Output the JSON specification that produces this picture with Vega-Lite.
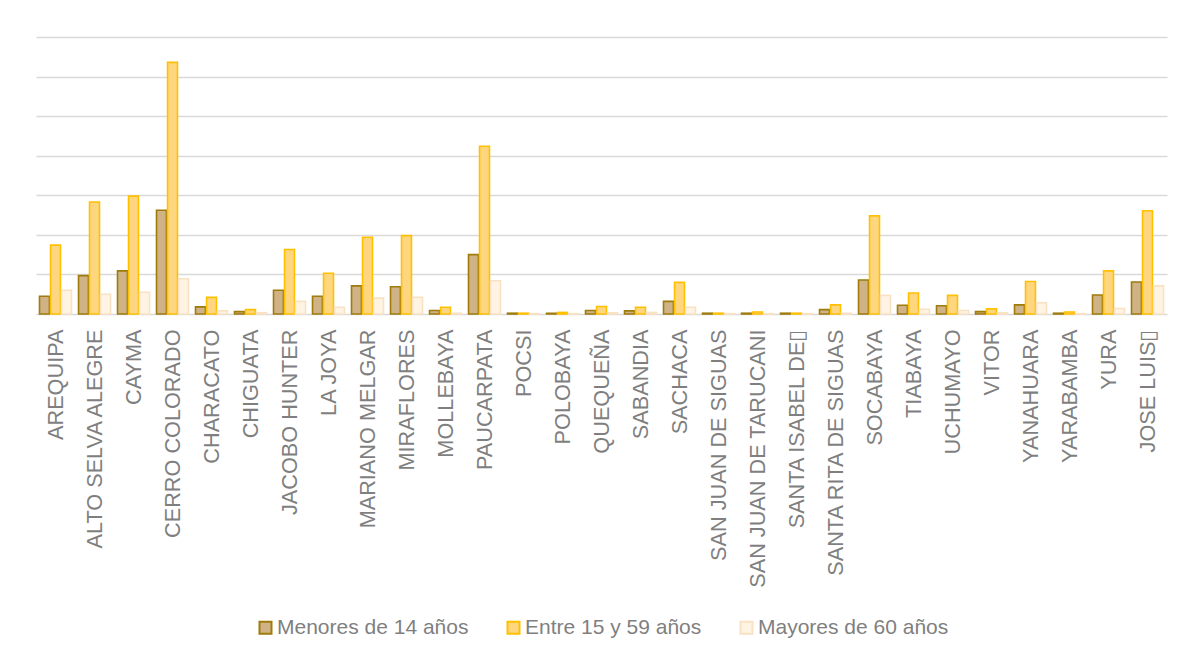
{
  "$schema": "https://vega.github.io/schema/vega-lite/v6.json",
  "width": 1131,
  "height": 277,
  "autosize": {"type": "none"},
  "padding": {"left": 36, "top": 37, "right": 22, "bottom": 347},
  "background": "white",
  "config": {
    "view": {"stroke": null},
    "font": "Liberation Sans"
  },
  "data": {
    "values": [
      {"distrito": "AREQUIPA", "Menores de 14 años": 4500, "Entre 15 y 59 años": 17400, "Mayores de 60 años": 6000},
      {"distrito": "ALTO SELVA ALEGRE", "Menores de 14 años": 9700, "Entre 15 y 59 años": 28300, "Mayores de 60 años": 5000},
      {"distrito": "CAYMA", "Menores de 14 años": 10900, "Entre 15 y 59 años": 29800, "Mayores de 60 años": 5500},
      {"distrito": "CERRO COLORADO", "Menores de 14 años": 26200, "Entre 15 y 59 años": 63600, "Mayores de 60 años": 8900},
      {"distrito": "CHARACATO", "Menores de 14 años": 1800, "Entre 15 y 59 años": 4200, "Mayores de 60 años": 800},
      {"distrito": "CHIGUATA", "Menores de 14 años": 600, "Entre 15 y 59 años": 1100, "Mayores de 60 años": 300},
      {"distrito": "JACOBO HUNTER", "Menores de 14 años": 6000, "Entre 15 y 59 años": 16300, "Mayores de 60 años": 3200},
      {"distrito": "LA JOYA", "Menores de 14 años": 4500, "Entre 15 y 59 años": 10300, "Mayores de 60 años": 1700},
      {"distrito": "MARIANO MELGAR", "Menores de 14 años": 7100, "Entre 15 y 59 años": 19400, "Mayores de 60 años": 4000},
      {"distrito": "MIRAFLORES", "Menores de 14 años": 6900, "Entre 15 y 59 años": 19800, "Mayores de 60 años": 4200},
      {"distrito": "MOLLEBAYA", "Menores de 14 años": 900, "Entre 15 y 59 años": 1700, "Mayores de 60 años": 200},
      {"distrito": "PAUCARPATA", "Menores de 14 años": 15000, "Entre 15 y 59 años": 42400, "Mayores de 60 años": 8400},
      {"distrito": "POCSI", "Menores de 14 años": 200, "Entre 15 y 59 años": 200, "Mayores de 60 años": 100},
      {"distrito": "POLOBAYA", "Menores de 14 años": 200, "Entre 15 y 59 años": 400, "Mayores de 60 años": 100},
      {"distrito": "QUEQUEÑA", "Menores de 14 años": 900, "Entre 15 y 59 años": 1900, "Mayores de 60 años": 300},
      {"distrito": "SABANDIA", "Menores de 14 años": 800, "Entre 15 y 59 años": 1700, "Mayores de 60 años": 400},
      {"distrito": "SACHACA", "Menores de 14 años": 3200, "Entre 15 y 59 años": 8000, "Mayores de 60 años": 1700},
      {"distrito": "SAN JUAN DE SIGUAS", "Menores de 14 años": 200, "Entre 15 y 59 años": 200, "Mayores de 60 años": 100},
      {"distrito": "SAN JUAN DE TARUCANI", "Menores de 14 años": 200, "Entre 15 y 59 años": 500, "Mayores de 60 años": 100},
      {"distrito": "SANTA ISABEL DE▯", "Menores de 14 años": 200, "Entre 15 y 59 años": 200, "Mayores de 60 años": 100},
      {"distrito": "SANTA RITA DE SIGUAS", "Menores de 14 años": 1100, "Entre 15 y 59 años": 2300, "Mayores de 60 años": 200},
      {"distrito": "SOCABAYA", "Menores de 14 años": 8600, "Entre 15 y 59 años": 24800, "Mayores de 60 años": 4700},
      {"distrito": "TIABAYA", "Menores de 14 años": 2200, "Entre 15 y 59 años": 5300, "Mayores de 60 años": 1200},
      {"distrito": "UCHUMAYO", "Menores de 14 años": 2100, "Entre 15 y 59 años": 4700, "Mayores de 60 años": 900},
      {"distrito": "VITOR", "Menores de 14 años": 600, "Entre 15 y 59 años": 1300, "Mayores de 60 años": 300},
      {"distrito": "YANAHUARA", "Menores de 14 años": 2300, "Entre 15 y 59 años": 8200, "Mayores de 60 años": 2800},
      {"distrito": "YARABAMBA", "Menores de 14 años": 200, "Entre 15 y 59 años": 500, "Mayores de 60 años": 100},
      {"distrito": "YURA", "Menores de 14 años": 4800, "Entre 15 y 59 años": 10900, "Mayores de 60 años": 1400},
      {"distrito": "JOSE LUIS▯", "Menores de 14 años": 8100, "Entre 15 y 59 años": 26100, "Mayores de 60 años": 7100}
    ]
  },
  "transform": [
    {"fold": ["Menores de 14 años", "Entre 15 y 59 años", "Mayores de 60 años"], "as": ["grupo", "valor"]}
  ],
  "mark": {"type": "bar", "strokeWidth": 1.6},
  "encoding": {
    "x": {
      "field": "distrito",
      "type": "nominal",
      "sort": null,
      "scale": {"paddingInner": 0.18, "paddingOuter": 0.09},
      "axis": {
        "title": null,
        "domain": false,
        "ticks": false,
        "labelAngle": -90,
        "labelAlign": "right",
        "labelBaseline": "middle",
        "labelPadding": 15,
        "labelFontSize": 21.7,
        "labelColor": "#7f7f7f",
        "labelFont": "Liberation Sans",
        "labelLimit": 400
      }
    },
    "xOffset": {
      "field": "grupo",
      "type": "nominal",
      "sort": ["Menores de 14 años", "Entre 15 y 59 años", "Mayores de 60 años"],
      "scale": {"paddingInner": 0.1}
    },
    "y": {
      "field": "valor",
      "type": "quantitative",
      "scale": {"domain": [0, 70000], "nice": false},
      "axis": {
        "title": null,
        "labels": false,
        "ticks": false,
        "domain": false,
        "values": [0, 10000, 20000, 30000, 40000, 50000, 60000, 70000],
        "grid": true,
        "gridColor": "#d9d9d9",
        "gridWidth": 1.5
      }
    },
    "fill": {
      "field": "grupo",
      "type": "nominal",
      "scale": {
        "domain": ["Menores de 14 años", "Entre 15 y 59 años", "Mayores de 60 años"],
        "range": ["#CFB387", "#FFD680", "#FFF4E4"]
      },
      "legend": {
        "title": null,
        "orient": "none",
        "direction": "horizontal",
        "legendX": 219,
        "legendY": 580,
        "symbolType": "square",
        "symbolSize": 144,
        "symbolStrokeWidth": 2,
        "symbolOpacity": 1,
        "labelFontSize": 21,
        "labelColor": "#7f7f7f",
        "labelFont": "Liberation Sans",
        "labelOffset": 1,
        "columnPadding": 34,
        "labelLimit": 400
      }
    },
    "stroke": {
      "field": "grupo",
      "type": "nominal",
      "scale": {
        "domain": ["Menores de 14 años", "Entre 15 y 59 años", "Mayores de 60 años"],
        "range": ["#9E7B0A", "#FFC000", "#F9E2C3"]
      },
      "legend": {
        "title": null,
        "orient": "none",
        "direction": "horizontal",
        "legendX": 219,
        "legendY": 580,
        "symbolType": "square",
        "symbolSize": 144,
        "symbolStrokeWidth": 2,
        "labelFontSize": 21,
        "labelColor": "#7f7f7f",
        "labelFont": "Liberation Sans",
        "labelOffset": 1,
        "columnPadding": 34,
        "labelLimit": 400
      }
    }
  }
}
